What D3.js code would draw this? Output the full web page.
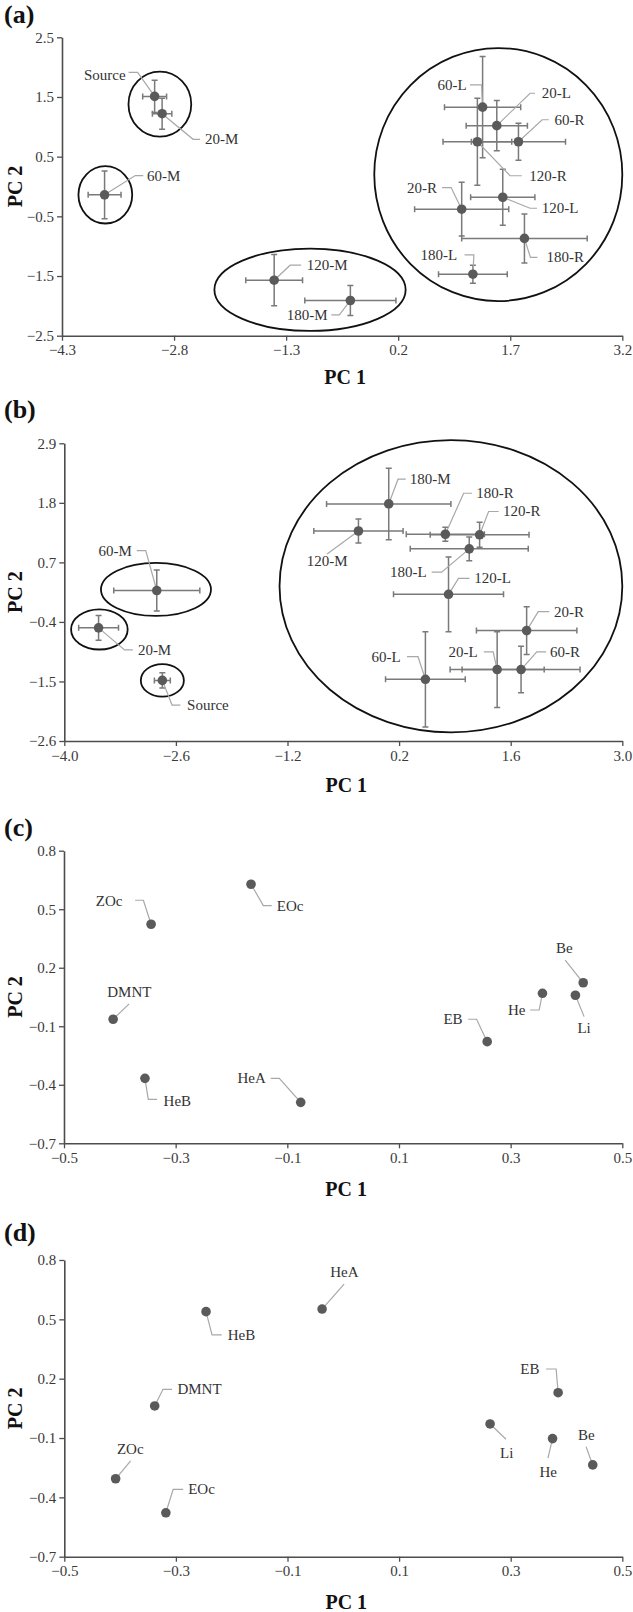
<!DOCTYPE html>
<html><head><meta charset="utf-8">
<script src="https://cdn.jsdelivr.net/npm/d3@7/dist/d3.min.js"></script>
<style>body{margin:0;background:#fff}svg{display:block}</style>
</head><body>
<svg id="chart" width="633" height="1612"></svg>
<script>
// ---------------- data ----------------
const namesA = ["Source","20-M","60-M","120-M","180-M","60-L","20-L","60-R","120-R","120-L","20-R","180-R","180-L"];
const pc1A  = [-3.06,-2.96,-3.73,-1.46,-0.44,1.33,1.52,1.81,1.26,1.60,1.05,1.89,1.20];
const pc2A  = [1.51,1.22,-0.14,-1.57,-1.91,1.33,1.02,0.75,0.75,-0.18,-0.38,-0.87,-1.47];
const errXA = [0.16,0.13,0.22,0.38,0.61,0.51,0.41,0.63,0.46,0.43,0.63,0.84,0.46];
const errYA = [0.27,0.26,0.40,0.43,0.25,0.85,0.42,0.31,0.73,0.47,0.45,0.41,0.15];
const xTicksA = [-4.3,-2.8,-1.3,0.2,1.7,3.2];
const yTicksA = [-2.5,-1.5,-0.5,0.5,1.5,2.5];
const groupsA = [{cx:-2.99,cy:1.38,rx:0.42,ry:0.545},{cx:-3.72,cy:-0.14,rx:0.36,ry:0.48},{cx:-0.98,cy:-1.73,rx:1.28,ry:0.69},{cx:1.54,cy:0.20,rx:1.66,ry:2.12}];

const namesB = ["60-M","20-M","Source","180-M","120-M","180-R","120-R","180-L","120-L","20-R","20-L","60-R","60-L"];
const pc1B  = [-2.84,-3.57,-2.77,0.07,-0.31,0.78,1.21,1.08,0.82,1.80,1.43,1.73,0.53];
const pc2B  = [0.18,-0.51,-1.48,1.78,1.28,1.22,1.21,0.95,0.11,-0.56,-1.28,-1.28,-1.46];
const errXB = [0.54,0.25,0.10,0.78,0.56,0.49,0.62,0.74,0.69,0.63,0.59,0.74,0.50];
const errYB = [0.38,0.23,0.14,0.66,0.22,0.13,0.23,0.22,0.69,0.44,0.70,0.43,0.88];
const xTicksB = [-4.0,-2.6,-1.2,0.2,1.6,3.0];
const yTicksB = [-2.6,-1.5,-0.4,0.7,1.8,2.9];
const groupsB = [{cx:-2.85,cy:0.20,rx:0.69,ry:0.49},{cx:-3.56,cy:-0.54,rx:0.355,ry:0.37},{cx:-2.77,cy:-1.48,rx:0.27,ry:0.30},{cx:0.85,cy:0.26,rx:2.15,ry:2.70}];

const namesC = ["EOc","ZOc","DMNT","HeB","HeA","EB","He","Be","Li"];
const pc1C = [-0.165,-0.344,-0.412,-0.355,-0.076,0.258,0.357,0.430,0.416];
const pc2C = [0.628,0.423,-0.064,-0.367,-0.490,-0.179,0.069,0.123,0.059];

const namesD = ["HeB","DMNT","ZOc","EOc","HeA","EB","Li","He","Be"];
const pc1D = [-0.246,-0.338,-0.408,-0.318,-0.038,0.385,0.263,0.375,0.447];
const pc2D = [0.539,0.062,-0.306,-0.478,0.552,0.129,-0.029,-0.103,-0.236];

const xTicksCD = [-0.5,-0.3,-0.1,0.1,0.3,0.5];
const yTicksCD = [-0.7,-0.4,-0.1,0.2,0.5,0.8];

// ---------------- label layout (pixel offsets from each marker) ----------------
// t: [dx, dyCenter, anchor]; p: leader polyline starting next to text, ending before marker
const labA = {
  "Source":{t:[-29,-21,"end"],p:[[-26,-24],[-17,-24]]},
  "20-M":{t:[43,25.6,"start"],p:[[38,25.6],[31,25.6]]},
  "60-M":{t:[42.4,-19.3,"start"],p:[[38.7,-19.3],[30.7,-19.3]]},
  "120-M":{t:[32.7,-15,"start"],p:[[27,-15],[16,-15]]},
  "180-M":{t:[-22.7,14.3,"end"],p:[[-19,14.3],[-11,14.3]]},
  "60-L":{t:[-16,-22.3,"end"],p:[[-12.7,-22.3],[-1,-22.3]]},
  "20-L":{t:[45,-32.4,"start"],p:[[38.3,-32.4],[33.3,-32.4]]},
  "60-R":{t:[36,-22,"start"],p:[[30.3,-22],[23.7,-22]]},
  "120-R":{t:[52,34,"start"],p:[[44.4,34],[32.7,34]]},
  "120-L":{t:[39,11,"start"],p:[[34.3,11],[27.3,11]]},
  "20-R":{t:[-24.6,-21.6,"end"],p:[[-19.6,-21.6],[-10.6,-21.6]]},
  "180-R":{t:[22,19,"start"],p:[[13,19],[6,19]]},
  "180-L":{t:[-15.6,-19.3,"end"],p:[[-8.3,-19.3],[1,-19.3]]}
};
const labB = {
  "60-M":{t:[-25,-40,"end"],p:[[-20,-40],[-11,-40]]},
  "20-M":{t:[39.3,22,"start"],p:[[34.3,22],[26,22]]},
  "Source":{t:[24.7,24.7,"start"],p:[[18,24.7],[9.7,24.7]]},
  "180-M":{t:[21,-24.7,"start"],p:[[17,-24.7],[9.3,-24.7]]},
  "180-R":{t:[31,-41,"start"],p:[[26.7,-41],[18.3,-41]]},
  "120-R":{t:[23.4,-23.3,"start"],p:[[19,-23.3],[9,-23.3]]},
  "120-M":{t:[-31.2,30,"middle"],p:[[-31.4,23]]},
  "180-L":{t:[-42.6,23.3,"end"],p:[[-37.6,23.3],[-27.6,23.3]]},
  "120-L":{t:[25.7,-16,"start"],p:[[21,-16],[10,-16]]},
  "20-R":{t:[27.3,-19,"start"],p:[[22.6,-19],[11.6,-19]]},
  "60-R":{t:[29,-17.6,"start"],p:[[25,-17.6],[15.7,-17.6]]},
  "20-L":{t:[-19.4,-17.6,"end"],p:[[-13.4,-17.6],[-4,-17.6]]},
  "60-L":{t:[-24.7,-22.6,"end"],p:[[-18.4,-22.6],[-7.4,-22.6]]}
};
const labC = {
  "ZOc":{t:[-28.7,-23,"end"],p:[[-16,-24],[-7.7,-24]]},
  "EOc":{t:[25.7,21.4,"start"],p:[[20.7,21.4],[12.3,21.4]]},
  "DMNT":{t:[16.2,-27.6,"middle"],p:[[16,-15.3]]},
  "HeB":{t:[18.6,22.4,"start"],p:[[12,21],[3.3,21]]},
  "HeA":{t:[-35,-24,"end"],p:[[-30,-24],[-21.4,-24]]},
  "EB":{t:[-24.6,-22.4,"end"],p:[[-19,-22.4],[-10.6,-22.4]]},
  "He":{t:[-17,16.7,"end"],p:[[-12.3,16.7],[-3.3,16.7]]},
  "Be":{t:[-18.8,-34.4,"middle"],p:[[-18,-22.7]]},
  "Li":{t:[8.7,33,"middle"],p:[[8.7,21.4]]}
};
const labD = {
  "HeB":{t:[21.7,23.3,"start"],p:[[15.7,23.3],[6,23.3]]},
  "DMNT":{t:[22.7,-16.7,"start"],p:[[17.3,-16.7],[8.3,-16.7]]},
  "ZOc":{t:[14.6,-29.4,"middle"],p:[[15,-18]]},
  "EOc":{t:[22.3,-23.4,"start"],p:[[17.3,-23.4],[7.3,-23.4]]},
  "HeA":{t:[22.3,-37.3,"middle"],p:[[22,-25]]},
  "EB":{t:[-18.7,-23.7,"end"],p:[[-12,-23.7],[-2,-23.7]]},
  "Li":{t:[16.7,29.3,"middle"],p:[[16,15.3]]},
  "He":{t:[-4.3,33.6,"middle"],p:[[-4.6,19.6]]},
  "Be":{t:[-6.5,-30,"middle"],p:[[-6.7,-18.3]]}
};

// ---------------- panel layout ----------------
const FONT = "'Liberation Serif','Times New Roman',Times,serif";
const panels = [
  {tag:"(a)", tagY:15, x0:62, x1:622.3, y0:37.3, y1:335.7, xd:[-4.3,3.2], yd:[-2.5,2.5], xt:xTicksA, yt:yTicksA,
   names:namesA, px:pc1A, py:pc2A, ex:errXA, ey:errYA, groups:groupsA, lab:labA, pc1Y:377},
  {tag:"(b)", tagY:410, x0:64.3, x1:622.3, y0:443.3, y1:741, xd:[-4.0,3.0], yd:[-2.6,2.9], xt:xTicksB, yt:yTicksB,
   names:namesB, px:pc1B, py:pc2B, ex:errXB, ey:errYB, groups:groupsB, lab:labB, pc1Y:785},
  {tag:"(c)", tagY:828, x0:64, x1:622.3, y0:850.7, y1:1143.3, xd:[-0.5,0.5], yd:[-0.7,0.8], xt:xTicksCD, yt:yTicksCD,
   names:namesC, px:pc1C, py:pc2C, ex:null, ey:null, groups:[], lab:labC, pc1Y:1189},
  {tag:"(d)", tagY:1233, x0:64.3, x1:622.3, y0:1260, y1:1556.7, xd:[-0.5,0.5], yd:[-0.7,0.8], xt:xTicksCD, yt:yTicksCD,
   names:namesD, px:pc1D, py:pc2D, ex:null, ey:null, groups:[], lab:labD, pc1Y:1602}
];

const svg = d3.select("#chart");
const fmt = d3.format(".1f");

panels.forEach(P => {
  const g = svg.append("g");
  const x = d3.scaleLinear().domain(P.xd).range([P.x0, P.x1]);
  const y = d3.scaleLinear().domain(P.yd).range([P.y1, P.y0]);

  // axes
  const ax = g.append("g").attr("transform", `translate(0,${P.y1})`)
    .call(d3.axisBottom(x).tickValues(P.xt).tickFormat(fmt).tickSize(5).tickSizeOuter(0).tickPadding(4));
  const ay = g.append("g").attr("transform", `translate(${P.x0},0)`)
    .call(d3.axisLeft(y).tickValues(P.yt).tickFormat(fmt).tickSize(5).tickSizeOuter(0).tickPadding(3));
  [ax, ay].forEach(a => {
    a.select(".domain").attr("stroke", "#4d4d4d").attr("stroke-width", 1.6);
    a.selectAll(".tick line").attr("stroke", "#4d4d4d").attr("stroke-width", 1.3);
    a.selectAll(".tick text").attr("fill", "#3a3a3a").style("font-family", FONT).style("font-size", "15px");
  });

  // panel tag
  g.append("text").attr("x", 4).attr("y", P.tagY + 8).text(P.tag)
    .style("font-family", FONT).style("font-size", "26px").style("font-weight", "bold").attr("fill", "#111");
  // axis titles
  g.append("text").attr("x", (P.x0 + P.x1) / 2 + 3).attr("y", P.pc1Y + 7).attr("text-anchor", "middle").text("PC 1")
    .style("font-family", FONT).style("font-size", "20px").style("font-weight", "bold").attr("fill", "#111");
  const ym = (P.y0 + P.y1) / 2;
  g.append("text").attr("transform", `translate(${22},${ym}) rotate(-90)`).attr("text-anchor", "middle").text("PC 2")
    .style("font-family", FONT).style("font-size", "20px").style("font-weight", "bold").attr("fill", "#111");

  const rows = P.names.map((n, i) => ({name: n, x: P.px[i], y: P.py[i], ex: P.ex ? P.ex[i] : 0, ey: P.ey ? P.ey[i] : 0}));

  // group ellipses
  g.selectAll("ellipse.grp").data(P.groups).join("ellipse").attr("class", "grp")
    .attr("cx", d => x(d.cx)).attr("cy", d => y(d.cy))
    .attr("rx", d => x(d.cx + d.rx) - x(d.cx)).attr("ry", d => y(d.cy) - y(d.cy + d.ry))
    .attr("fill", "none").attr("stroke", "#111").attr("stroke-width", 1.8);

  // error bars
  if (P.ex) {
    const eb = g.append("g").attr("stroke", "#7a7a7a").attr("stroke-width", 1.5).attr("fill", "none");
    rows.forEach(d => {
      const cx = x(d.x), cy = y(d.y);
      const xl = x(d.x - d.ex), xr = x(d.x + d.ex), yt = y(d.y + d.ey), yb = y(d.y - d.ey);
      eb.append("path").attr("d",
        `M${xl},${cy}H${xr}M${xl},${cy-3}V${cy+3}M${xr},${cy-3}V${cy+3}` +
        `M${cx},${yt}V${yb}M${cx-3},${yt}H${cx+3}M${cx-3},${yb}H${cx+3}`);
    });
  }

  // leaders
  const line = d3.line();
  rows.forEach(d => {
    const L = P.lab[d.name]; if (!L) return;
    const cx = x(d.x), cy = y(d.y);
    const pts = L.p.map(q => [cx + q[0], cy + q[1]]).concat([[cx, cy]]);
    g.append("path").attr("d", line(pts)).attr("fill", "none").attr("stroke", "#a8a8a8").attr("stroke-width", 1.2);
  });

  // markers
  g.selectAll("circle.pt").data(rows).join("circle").attr("class", "pt")
    .attr("cx", d => x(d.x)).attr("cy", d => y(d.y)).attr("r", 4.8).attr("fill", "#5a5a5a");

  // labels
  rows.forEach(d => {
    const L = P.lab[d.name]; if (!L) return;
    g.append("text").attr("x", x(d.x) + L.t[0]).attr("y", y(d.y) + L.t[1] + 5)
      .attr("text-anchor", L.t[2]).text(d.name)
      .style("font-family", FONT).style("font-size", "15px").attr("fill", "#333");
  });
});
</script>
</body></html>
